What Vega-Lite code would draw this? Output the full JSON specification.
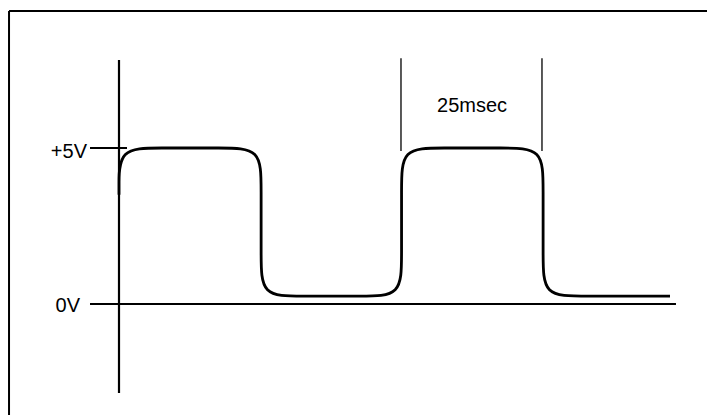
{
  "$schema": "https://vega.github.io/schema/vega-lite/v6.json",
  "width": 707,
  "height": 415,
  "autosize": "none",
  "padding": 0,
  "background": "white",
  "config": {"view": {"stroke": null}},
  "datasets": {
    "wave": [
      {"i": 0, "t": 0, "v": 3.5},
      {"i": 1, "t": 0, "v": 3.75},
      {"i": 2, "t": 0, "v": 5},
      {"i": 3, "t": 6.8, "v": 5},
      {"i": 4, "t": 18.4, "v": 5},
      {"i": 5, "t": 25.2, "v": 5},
      {"i": 6, "t": 25.2, "v": 3.75},
      {"i": 7, "t": 25.2, "v": 1.5},
      {"i": 8, "t": 25.2, "v": 0.25},
      {"i": 9, "t": 32, "v": 0.25},
      {"i": 10, "t": 43.3, "v": 0.25},
      {"i": 11, "t": 50.1, "v": 0.25},
      {"i": 12, "t": 50.1, "v": 1.5},
      {"i": 13, "t": 50.1, "v": 3.75},
      {"i": 14, "t": 50.1, "v": 5},
      {"i": 15, "t": 56.9, "v": 5},
      {"i": 16, "t": 68.4, "v": 5},
      {"i": 17, "t": 75.2, "v": 5},
      {"i": 18, "t": 75.2, "v": 3.75},
      {"i": 19, "t": 75.2, "v": 1.5},
      {"i": 20, "t": 75.2, "v": 0.25},
      {"i": 21, "t": 82, "v": 0.25},
      {"i": 22, "t": 97.7, "v": 0.25}
    ],
    "frame": [
      {"t": -19.5, "v": -3.6, "t2": -19.5, "v2": 9.39},
      {"t": -19.5, "v": 9.39, "t2": 104.3, "v2": 9.39}
    ],
    "axes": [
      {"t": 0, "v": -2.85, "t2": 0, "v2": 7.82},
      {"t": -5.14, "v": 0, "t2": 98.76, "v2": 0},
      {"t": -5.14, "v": 5, "t2": 1.42, "v2": 5}
    ],
    "markers": [
      {"t": 50, "v": 4.9, "t2": 50, "v2": 7.88},
      {"t": 75, "v": 4.9, "t2": 75, "v2": 7.88}
    ],
    "ylabels": [
      {"t": -5.67, "v": 4.88, "label": "+5V"},
      {"t": -6.91, "v": -0.06, "label": "0V"}
    ],
    "tlabels": [
      {"t": 62.6, "v": 6.36, "label": "25msec"}
    ]
  },
  "layer": [
    {
      "data": {"name": "frame"},
      "mark": {"type": "rule", "color": "black", "strokeWidth": 2},
      "encoding": {
        "x": {"field": "t", "type": "quantitative", "scale": {"domain": [-21.1, 104.26], "nice": false, "zero": false}, "axis": null},
        "y": {"field": "v", "type": "quantitative", "scale": {"domain": [-3.558, 9.744], "nice": false, "zero": false}, "axis": null},
        "x2": {"field": "t2"},
        "y2": {"field": "v2"}
      }
    },
    {
      "data": {"name": "axes"},
      "mark": {"type": "rule", "color": "black", "strokeWidth": 2.2},
      "encoding": {
        "x": {"field": "t", "type": "quantitative"},
        "y": {"field": "v", "type": "quantitative"},
        "x2": {"field": "t2"},
        "y2": {"field": "v2"}
      }
    },
    {
      "data": {"name": "markers"},
      "mark": {"type": "rule", "color": "black", "strokeWidth": 1.3},
      "encoding": {
        "x": {"field": "t", "type": "quantitative"},
        "y": {"field": "v", "type": "quantitative"},
        "x2": {"field": "t2"},
        "y2": {"field": "v2"}
      }
    },
    {
      "data": {"name": "wave"},
      "mark": {"type": "line", "color": "black", "strokeWidth": 2.8, "interpolate": "basis"},
      "encoding": {
        "x": {"field": "t", "type": "quantitative"},
        "y": {"field": "v", "type": "quantitative"},
        "order": {"field": "i", "type": "quantitative"}
      }
    },
    {
      "data": {"name": "ylabels"},
      "mark": {"type": "text", "align": "right", "baseline": "middle", "font": "Liberation Sans", "fontSize": 20, "color": "black"},
      "encoding": {
        "x": {"field": "t", "type": "quantitative"},
        "y": {"field": "v", "type": "quantitative"},
        "text": {"field": "label"}
      }
    },
    {
      "data": {"name": "tlabels"},
      "mark": {"type": "text", "align": "center", "baseline": "middle", "font": "Liberation Sans", "fontSize": 20, "color": "black"},
      "encoding": {
        "x": {"field": "t", "type": "quantitative"},
        "y": {"field": "v", "type": "quantitative"},
        "text": {"field": "label"}
      }
    }
  ]
}
